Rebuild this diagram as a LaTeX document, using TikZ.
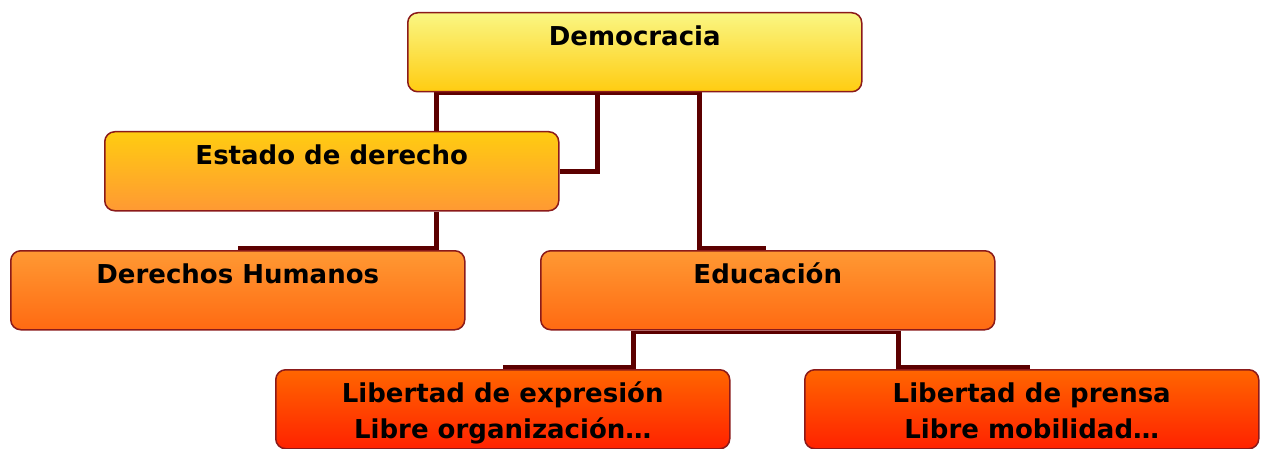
\documentclass[tikz,border=0pt]{standalone}
\usepackage{fontspec}
\setmainfont{DejaVu Sans}
\usetikzlibrary{calc}
\pgfdeclarelayer{background}
\pgfsetlayers{background,main}
\definecolor{conncol}{HTML}{5C0000}
\definecolor{bordercol}{HTML}{8B1A1A}
\definecolor{c1}{HTML}{FAF683}
\definecolor{c2}{HTML}{FFCC11}
\definecolor{c3}{HTML}{FF9933}
\definecolor{c4}{HTML}{FF6A12}
\definecolor{c5}{HTML}{FF6600}
\definecolor{c6}{HTML}{FF2200}
\tikzset{
  box/.style={draw=bordercol, line width=1.5pt, rounded corners=10pt,
    minimum width=454pt, minimum height=79pt, inner sep=0pt,
    text height=33pt, text depth=46pt, align=center, anchor=north west,
    font=\fontsize{26}{36}\selectfont\bfseries},
  twoline/.style={text height=69pt, text depth=10pt},
  lvlA/.style={box, top color=c1, bottom color=c2},
  lvlB/.style={box, top color=c2, bottom color=c3},
  lvlC/.style={box, top color=c3, bottom color=c4},
  lvlD/.style={box, twoline, top color=c5, bottom color=c6},
  conn/.style={draw=conncol, line width=5pt},
  bus/.style={draw=conncol, line width=3pt},
}
\begin{document}
\begin{tikzpicture}[x=1pt,y=1pt]
\useasboundingbox (0,0) rectangle (1265,-449);
\node[lvlA] (dem) at (407,-12) {Democracia};
\node[lvlB] (est) at (104,-131) {Estado de derecho};
\node[lvlC] (der) at (10,-250) {Derechos Humanos};
\node[lvlC] (edu) at (540,-250) {Educación};
\node[lvlD] (lexp) at (275,-369) {Libertad de expresión\\Libre organización…};
\node[lvlD] (lpre) at (804,-369) {Libertad de prensa\\Libre mobilidad…};
\begin{pgfonlayer}{background}
  % buses under parents
  \draw[bus] ($(dem.south west)+(29,-1.5)$) -- ($(dem.south west)+(292,-1.5)$);
  \draw[bus] ($(edu.south west)+(93,-1.5)$) -- ($(edu.south west)+(358,-1.5)$);
  % Democracia -> Estado de derecho
  \draw[conn] ($(dem.south west)+(29,0)$) -- ($(est.north west)+(332,0)$);
  \draw[conn] ($(dem.south west)+(190,0)$) |- (est.east);
  % Democracia -> Educacion
  \draw[conn] ($(dem.south west)+(292,0)$) |- ($(edu.north west)+(226,2)$);
  % Estado -> Derechos Humanos
  \draw[conn] ($(est.south west)+(332,0)$) |- ($(der.north west)+(228,2)$);
  % Educacion -> Libertades
  \draw[conn] ($(edu.south west)+(93,0)$) |- ($(lexp.north west)+(228,2)$);
  \draw[conn] ($(edu.south west)+(358,0)$) |- ($(lpre.north west)+(226,2)$);
\end{pgfonlayer}
\end{tikzpicture}
\end{document}
